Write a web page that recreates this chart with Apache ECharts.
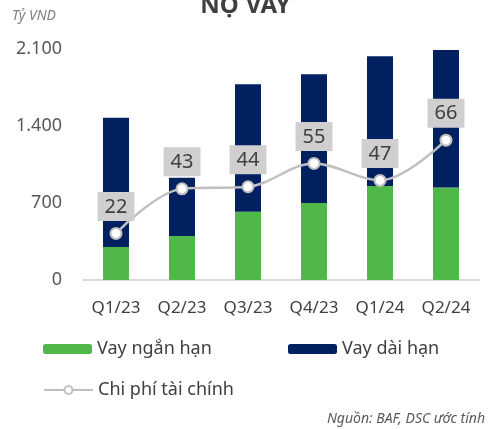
<!DOCTYPE html>
<html>
<head>
<meta charset="utf-8">
<script src="https://cdn.jsdelivr.net/npm/echarts@6/dist/echarts.min.js"></script>
<style>
  html, body { margin: 0; padding: 0; background: #fff; }
  #chart { width: 491px; height: 429px; }
</style>
</head>
<body>
<div id="chart"></div>
<script>
// data
const quarters = ['Q1/23', 'Q2/23', 'Q3/23', 'Q4/23', 'Q1/24', 'Q2/24'];
const shortTerm = [300, 400, 620, 700, 855, 840];   // Vay ngắn hạn
const longTerm = [1175, 530, 1160, 1170, 1180, 1250]; // Vay dài hạn
const financeCost = [22, 43, 44, 55, 47, 66];        // Chi phí tài chính

const font = 'Noto Sans';
const chart = echarts.init(document.getElementById('chart'));

const legendText = { fontSize: 18, color: '#404040' };

const option = {
  animation: false,
  textStyle: { fontFamily: font },
  graphic: [
    {
      type: 'text', left: 'center', top: -6,
      style: { text: 'NỢ VAY', font: 'bold 24px "Noto Sans"', fill: '#404040' }
    },
    {
      type: 'text', left: 12, top: 9,
      style: { text: 'Tỷ VND', font: 'italic 14px "Noto Sans"', fill: '#7f7f7f' }
    },
    {
      type: 'text', right: 6, top: 412,
      style: { text: 'Nguồn: BAF, DSC ước tính', font: 'italic 14px "Noto Sans"', fill: '#595959' }
    }
  ],
  legend: [
    {
      data: ['Vay ngắn hạn'], left: 43, top: 340, padding: 0,
      itemWidth: 49, itemHeight: 10, textStyle: legendText
    },
    {
      data: ['Vay dài hạn'], left: 288, top: 340, padding: 0,
      itemWidth: 49, itemHeight: 10, textStyle: legendText
    },
    {
      data: ['Chi phí tài chính'], left: 43, top: 381, padding: 0,
      itemWidth: 49, itemHeight: 10, textStyle: legendText
    }
  ],
  grid: { left: 83, right: 12, top: 49, bottom: 149 },
  xAxis: {
    type: 'category',
    data: quarters,
    axisLine: { lineStyle: { color: '#d9d9d9', width: 2 } },
    axisTick: { show: false },
    axisLabel: { interval: 0, fontSize: 17, color: '#404040', margin: 20 }
  },
  yAxis: [
    {
      type: 'value', min: 0, max: 2100, interval: 700,
      splitLine: { show: false },
      axisLabel: {
        fontSize: 18, color: '#595959', margin: 21,
        formatter: v => v.toLocaleString('de-DE')
      }
    },
    { type: 'value', min: 0, max: 109, show: false, splitLine: { show: false } }
  ],
  series: [
    {
      name: 'Vay ngắn hạn', type: 'bar', stack: 'debt', barWidth: 26,
      itemStyle: { color: '#50b848' },
      data: shortTerm
    },
    {
      name: 'Vay dài hạn', type: 'bar', stack: 'debt', barWidth: 26,
      itemStyle: { color: '#002060' },
      data: longTerm
    },
    {
      name: 'Chi phí tài chính', type: 'line', yAxisIndex: 1,
      smooth: 0.35, symbol: 'circle', symbolSize: 11, z: 5,
      lineStyle: { color: '#bfbfbf', width: 2.5 },
      itemStyle: { color: '#ffffff', borderColor: '#bfbfbf', borderWidth: 2 },
      label: {
        show: true, position: 'top', distance: 6,
        fontSize: 20, color: '#404040',
        backgroundColor: '#d0cece', padding: [5, 7, 4, 7]
      },
      data: financeCost
    }
  ]
};

chart.setOption(option);
window.addEventListener('resize', () => chart.resize());
</script>
</body>
</html>
